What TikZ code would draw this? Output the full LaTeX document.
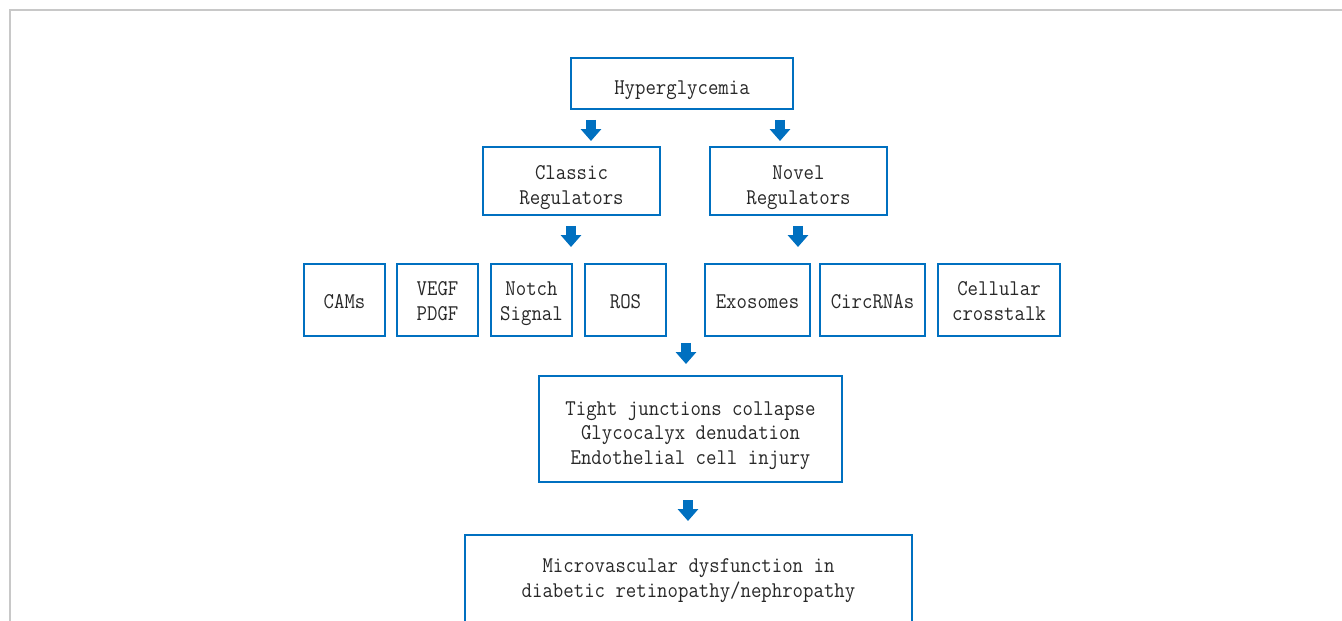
\documentclass[tikz,border=0pt]{standalone}
\usepackage{fontspec}
\setmonofont{Latin Modern Mono}[FakeStretch=0.9]
\usepackage{tikz}
\usetikzlibrary{arrows.meta}

\definecolor{boxblue}{RGB}{0,112,192}
\definecolor{framegray}{RGB}{200,200,200}
\definecolor{textgray}{RGB}{40,40,40}

% lower the lines a little inside their box
\newcommand{\lowtext}[2][-3.4pt]{\raisebox{#1}[\height][\depth]{\begin{tabular}{@{}c@{}}#2\end{tabular}}}

\tikzset{
  box/.style={shape=rectangle,draw=boxblue,line width=1.4pt,
    inner sep=0pt,text=textgray,font=\ttfamily\fontsize{12.8}{14.2}\selectfont},
  downarrow/.style={draw=boxblue,line width=5.6pt,line cap=butt,
    -{Triangle[width=11.4pt,length=6.8pt]}}
}

\begin{document}
\begin{tikzpicture}[x=0.02cm,y=-0.02cm]
\useasboundingbox (0,0) rectangle (1342,621);
\draw[framegray,line width=0.8pt] (10,640) -- (10,10) -- (1360,10);
\node[box,minimum width=4.44cm,minimum height=1.02cm] (hyper) at (682,83.5) {\lowtext{Hyperglycemia}};
\node[box,minimum width=3.54cm,minimum height=1.36cm] (classic) at (571.5,181) {\lowtext{Classic\\Regulators}};
\node[box,minimum width=3.54cm,minimum height=1.36cm] (novel) at (798.5,181) {\lowtext{Novel\\Regulators}};
\node[box,minimum width=1.62cm,minimum height=1.44cm] (cams) at (344.5,300) {\lowtext[-1.8pt]{CAMs}};
\node[box,minimum width=1.62cm,minimum height=1.44cm] (vegf) at (437.5,300) {\lowtext[-1.8pt]{VEGF\\PDGF}};
\node[box,minimum width=1.62cm,minimum height=1.44cm] (notch) at (531.5,300) {\lowtext[-1.8pt]{Notch\\Signal}};
\node[box,minimum width=1.62cm,minimum height=1.44cm] (ros) at (625.5,300) {\lowtext[-1.8pt]{ROS}};
\node[box,minimum width=2.1cm,minimum height=1.44cm] (exo) at (757.5,300) {\lowtext[-1.8pt]{Exosomes}};
\node[box,minimum width=2.1cm,minimum height=1.44cm] (circ) at (872.5,300) {\lowtext[-1.8pt]{CircRNAs}};
\node[box,minimum width=2.44cm,minimum height=1.44cm] (cross) at (999,300) {\lowtext[-1.8pt]{Cellular\\crosstalk}};
\node[box,minimum width=6.06cm,minimum height=2.12cm] (injury) at (690.5,429) {\lowtext{Tight junctions collapse\\Glycocalyx denudation\\Endothelial cell injury}};
\node[box,minimum width=8.94cm,minimum height=1.76cm] (dysf) at (688.5,579) {\lowtext[-0.6pt]{Microvascular dysfunction in\\diabetic retinopathy/nephropathy}};
% arrows
\coordinate (a1) at (591,120);
\coordinate (b1) at (591,141);
\coordinate (a2) at (780,120);
\coordinate (b2) at (780,141);
\coordinate (a3) at (571,226);
\coordinate (b3) at (571,247);
\coordinate (a4) at (798,226);
\coordinate (b4) at (798,247);
\coordinate (a5) at (686,343);
\coordinate (b5) at (686,364);
\coordinate (a6) at (688,500);
\coordinate (b6) at (688,521);
\draw[downarrow] (a1) -- (b1);
\draw[downarrow] (a2) -- (b2);
\draw[downarrow] (a3) -- (b3);
\draw[downarrow] (a4) -- (b4);
\draw[downarrow] (a5) -- (b5);
\draw[downarrow] (a6) -- (b6);
\end{tikzpicture}
\end{document}
